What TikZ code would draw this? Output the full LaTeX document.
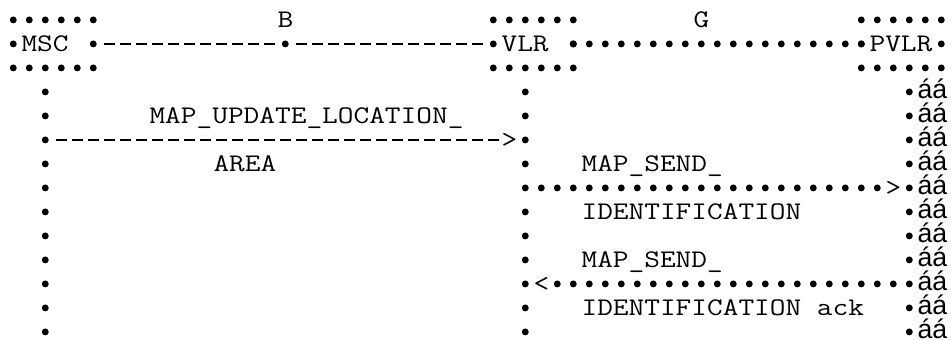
\documentclass[tikz,border=0pt]{standalone}
\usepackage{fontspec}
\setmonofont[FakeStretch=1.203]{Latin Modern Mono}
\newfontfamily\accfont{Liberation Sans}
\usetikzlibrary{positioning}
\tikzset{
  txt/.style={font=\fontsize{19pt}{24pt}\selectfont\ttfamily,inner sep=0pt,anchor=base west,yshift=-5.6pt},
  acc/.style={font=\fontsize{20pt}{24pt}\selectfont\accfont,inner sep=0pt,anchor=base west,yshift=-5pt},
  dashmsg/.style={line width=1.25pt,dash pattern=on 8.25pt off 3.75pt,shorten <=7.875pt,shorten >=7.875pt},
  dotmsg/.style={line width=5.2pt,line cap=round,dash pattern=on 0pt off 12pt},
}
\begin{document}
\begin{tikzpicture}[x=12pt,y=-18pt]
\useasboundingbox (-0.83,-0.83) rectangle (58.67,13.33);
% instance heads
\foreach \s in {0,30,53}
  \foreach \c in {0,...,5}
    {\fill (\s+\c,0) circle (2.6pt); \fill (\s+\c,2) circle (2.6pt);}
\foreach \c in {0,5,17,30,35,53,58}
  {\fill (\c,1) circle (2.6pt);}
\node[txt] (msc) at (0.5,1) {MSC};
\node[txt] (vlr) at (30.5,1) {VLR};
\node[txt] (pvlr) at (53.5,1) {PVLR};
% interfaces
\node[txt] (B) at (16.5,0) {B};
\node[txt] (G) at (42.5,0) {G};
\coordinate (m1) at (5,1);
\coordinate (b1) at (17,1);
\coordinate (v1) at (30,1);
\coordinate (v1r) at (35,1);
\coordinate (p1) at (53,1);
\draw[dashmsg] (m1) -- (b1);
\draw[dashmsg] (b1) -- (v1);
\draw[dotmsg] (v1r) -- (p1);
% lifelines
\foreach \r in {3,...,13}
  {\fill (2,\r) circle (2.6pt);
   \fill (32,\r) circle (2.6pt);
   \fill (56,\r) circle (2.6pt);
   \node[acc] (aa\r) at (56.5,\r) {áá};}
% MAP_UPDATE_LOCATION_AREA
\node[txt] (upd) at (8.5,4) {MAP\_UPDATE\_LOCATION\_};
\node[txt] (area) at (12.5,6) {AREA};
\coordinate (m5) at (2,5);
\coordinate (v5) at (32,5);
\draw[dashmsg,shorten >=19.875pt] (m5) -- (v5);
\node[txt] (gt1) at (30.5,5) {>};
% MAP_SEND_IDENTIFICATION
\node[txt] (send1) at (35.5,6) {MAP\_SEND\_};
\coordinate (v7) at (32,7);
\coordinate (p7) at (56,7);
\draw[dotmsg,shorten <=12pt,shorten >=23.9pt] (v7) -- (p7);
\node[txt] (gt2) at (54.5,7) {>};
\node[txt] (ident1) at (35.5,8) {IDENTIFICATION};
% MAP_SEND_IDENTIFICATION ack
\node[txt] (send2) at (35.5,10) {MAP\_SEND\_};
\coordinate (v11) at (32,11);
\coordinate (p11) at (56,11);
\draw[dotmsg,shorten <=24pt,shorten >=11.9pt] (v11) -- (p11);
\node[txt] (lt1) at (32.5,11) {<};
\node[txt] (ident2) at (35.5,12) {IDENTIFICATION ack};
\end{tikzpicture}
\end{document}
